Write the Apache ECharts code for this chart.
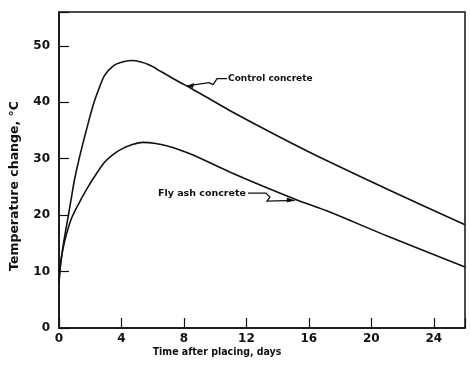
<!DOCTYPE html>
<html><head><meta charset="utf-8">
<script src="https://cdn.jsdelivr.net/npm/echarts@6/dist/echarts.min.js"></script>
<style>html,body{margin:0;padding:0;background:#fff}#c{width:470px;height:373px}</style>
</head><body><div id="c"></div>
<script>
var xTicks = [0, 4, 8, 12, 16, 20, 24];
var yTicks = [0, 10, 20, 30, 40, 50];
var controlDays = [0, 0.06, 0.17, 0.35, 0.59, 0.8, 1.0, 1.34, 1.87, 2.2, 2.5, 2.93, 3.5, 4.0, 4.6, 5.2, 5.8, 6.5, 7.7, 8.45, 10.9, 14.1, 16.6, 21.1, 26];
var controlTemp = [8, 10.3, 12.7, 16.0, 19.8, 23.2, 26.4, 30.6, 36.3, 39.6, 42.0, 44.8, 46.5, 47.1, 47.4, 47.2, 46.6, 45.5, 43.6, 42.5, 38.6, 33.9, 30.4, 24.5, 18.3];
var flyDays = [0, 0.13, 0.38, 0.81, 1.45, 1.9, 2.29, 2.93, 3.5, 4.0, 4.7, 5.37, 6.2, 7.0, 7.7, 8.55, 10.9, 13, 15.24, 17.3, 21.1, 26];
var flyTemp = [8, 12.1, 15.6, 19.5, 23.0, 25.2, 26.9, 29.4, 30.8, 31.7, 32.5, 32.9, 32.7, 32.2, 31.6, 30.7, 27.7, 25.2, 22.7, 20.6, 16.2, 10.8];
var seriesNames = ['Control concrete', 'Fly ash concrete'];
var xTitle = 'Time after placing, days';
var yTitle = 'Temperature change, \u00B0C';

function pairs(xs, ys){ return xs.map(function(x,i){ return [x, ys[i]]; }); }
var FONT = '"DejaVu Sans", sans-serif';
var chart = echarts.init(document.getElementById('c'), null, {renderer:'canvas'});
var option = {
  animation: false,
  grid: {left: 59, right: 5, top: 12, bottom: 45, show: true, borderColor: '#111', borderWidth: 1.5},
  xAxis: {
    type: 'value', min: 0, max: 26, interval: 4,
    axisLine: {lineStyle: {color: '#111', width: 1.5}},
    axisTick: {inside: true, length: 10, lineStyle: {color: '#111', width: 1.2}},
    splitLine: {show: false},
    axisLabel: {color: '#111', fontFamily: FONT, fontWeight: 'bold', fontSize: 12, margin: 5,
      formatter: function(v){ return xTicks.indexOf(v) >= 0 ? String(v) : ''; }}
  },
  yAxis: {
    type: 'value', min: 0, max: 56, interval: 10,
    axisLine: {lineStyle: {color: '#111', width: 1.5}},
    axisTick: {inside: true, length: 10, lineStyle: {color: '#111', width: 1.2}},
    splitLine: {show: false},
    axisLabel: {color: '#111', fontFamily: FONT, fontWeight: 'bold', fontSize: 12, margin: 9,
      formatter: function(v){ return yTicks.indexOf(v) >= 0 ? String(v) : ''; }}
  },
  series: [
    {name: seriesNames[0], type: 'line', data: pairs(controlDays, controlTemp), smooth: 0.3, showSymbol: false,
     lineStyle: {color: '#111', width: 1.6}},
    {name: seriesNames[1], type: 'line', data: pairs(flyDays, flyTemp), smooth: 0.3, showSymbol: false,
     lineStyle: {color: '#111', width: 1.6}}
  ]
};
chart.setOption(option);

function P(x, y){ return chart.convertToPixel({gridIndex: 0}, [x, y]); }
var ctrlText = P(10.7, 44.2), ctrlTip = P(8.2, 42.9);
var flyText = P(12.1, 23.9), flyTip = P(15.1, 22.6);
var g = [];
function poly(pts){ return {type: 'polyline', shape: {points: pts}, style: {stroke: '#111', lineWidth: 1.3, fill: null}}; }
g.push({type: 'text', x: ctrlText[0] + 2, y: ctrlText[1], style: {text: seriesNames[0], fill: '#111', font: 'bold 9px ' + FONT, textVerticalAlign: 'middle', textAlign: 'left'}});
g.push(poly([[ctrlText[0] + 1, ctrlText[1]], [ctrlText[0] - 9, ctrlText[1]], [ctrlText[0] - 13, ctrlText[1] + 6], [ctrlText[0] - 17, ctrlText[1] + 4], [ctrlTip[0], ctrlTip[1]]]));
g.push({type: 'polygon', shape: {points: [[ctrlTip[0], ctrlTip[1]], [ctrlTip[0] + 7, ctrlTip[1] - 3], [ctrlTip[0] + 6, ctrlTip[1] + 2]]}, style: {fill: '#111'}});
g.push({type: 'text', x: flyText[0] - 2, y: flyText[1], style: {text: seriesNames[1], fill: '#111', font: 'bold 9.5px ' + FONT, textVerticalAlign: 'middle', textAlign: 'right'}});
g.push(poly([[flyText[0], flyText[1]], [flyText[0] + 18, flyText[1]], [flyText[0] + 22, flyText[1] + 4], [flyText[0] + 19, flyText[1] + 8], [flyTip[0], flyTip[1]]]));
g.push({type: 'polygon', shape: {points: [[flyTip[0], flyTip[1]], [flyTip[0] - 8, flyTip[1] - 3], [flyTip[0] - 8, flyTip[1] + 2]]}, style: {fill: '#111'}});
g.push({type: 'text', x: 217, y: 352, style: {text: xTitle, fill: '#111', font: 'bold 10.5px "Liberation Sans Narrow", "DejaVu Sans Condensed", sans-serif', textAlign: 'center', textVerticalAlign: 'middle'}});
g.push({type: 'text', x: 15, y: 186, rotation: Math.PI / 2, style: {text: yTitle, fill: '#111', font: 'bold 12.5px ' + FONT, textAlign: 'center', textVerticalAlign: 'middle'}});
chart.setOption({graphic: g});
</script>
</body></html>
